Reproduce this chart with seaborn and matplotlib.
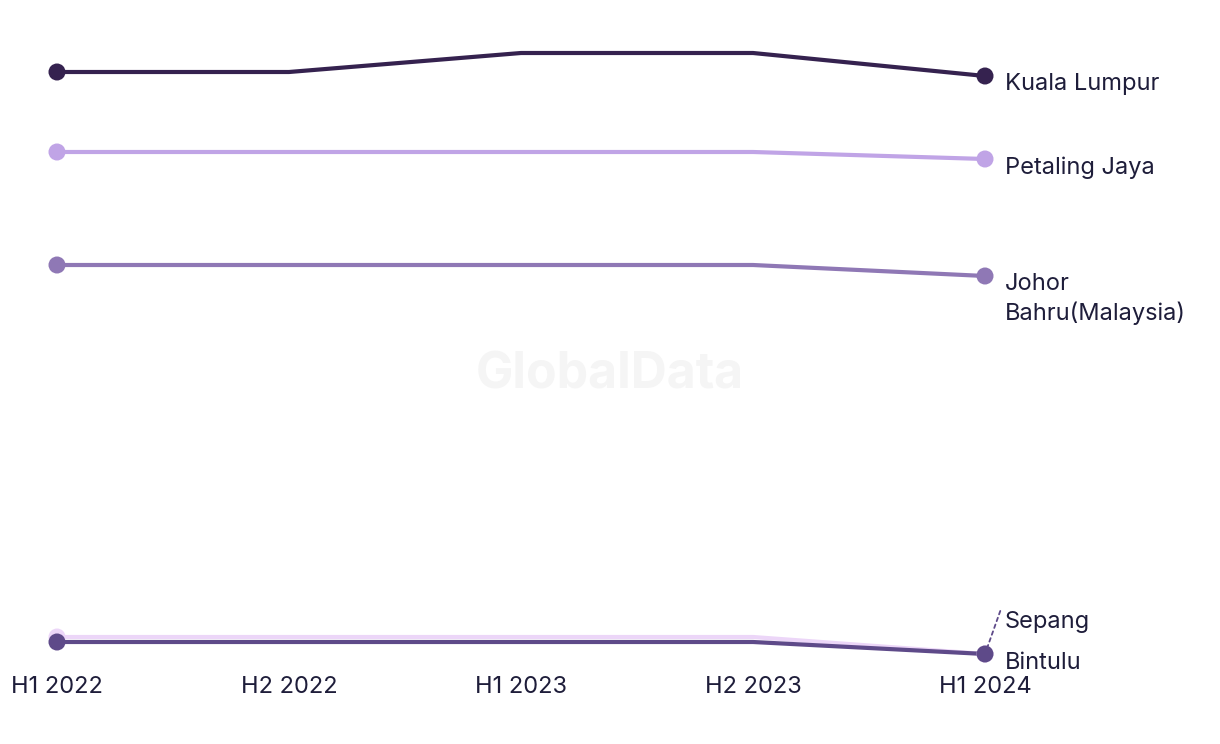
import matplotlib
matplotlib.use("Agg")
import matplotlib.pyplot as plt
import seaborn as sns
import pandas as pd

periods = ["H1 2022", "H2 2022", "H1 2023", "H2 2023", "H1 2024"]
kuala_lumpur = [6.00, 6.00, 6.19, 6.19, 5.96]
petaling_jaya = [5.20, 5.20, 5.20, 5.20, 5.13]
johor_bahru = [4.07, 4.07, 4.07, 4.07, 3.96]
sepang = [0.35, 0.35, 0.35, 0.35, 0.18]
bintulu = [0.30, 0.30, 0.30, 0.30, 0.18]

cities = ["Sepang", "Bintulu", "Johor Bahru(Malaysia)", "Petaling Jaya", "Kuala Lumpur"]
series = [sepang, bintulu, johor_bahru, petaling_jaya, kuala_lumpur]
colors = {
    "Kuala Lumpur": "#35224f",
    "Petaling Jaya": "#c0a4e6",
    "Johor Bahru(Malaysia)": "#8f78b5",
    "Sepang": "#ecd6f8",
    "Bintulu": "#5e4a89",
}
labels = {
    "Kuala Lumpur": "Kuala Lumpur",
    "Petaling Jaya": "Petaling Jaya",
    "Johor Bahru(Malaysia)": "Johor\nBahru(Malaysia)",
}

rows = []
for c, vals in zip(cities, series):
    for i, (p, v) in enumerate(zip(periods, vals)):
        rows.append({"city": c, "x": i, "period": p, "value": v})
df = pd.DataFrame(rows)

sns.set_theme(style="white")
plt.rcParams["font.family"] = ["Inter", "DejaVu Sans"]

fig = plt.figure(figsize=(12.2, 7.44), dpi=100)
W, H = 1220, 744
x0, x1 = 57, 985
y_top, y_bot = 40, 672
ax = fig.add_axes([x0 / W, 1 - y_bot / H, (x1 - x0) / W, (y_bot - y_top) / H])

fig.text(610 / W, 1 - 375 / H, "GlobalData", ha="center", va="center",
         fontsize=36, fontweight="bold", color="#f5f5f5", zorder=0)

for c in cities:
    sub = df[df.city == c]
    sns.lineplot(data=sub, x="x", y="value", color=colors[c], linewidth=3,
                 ax=ax, legend=False, clip_on=False, zorder=2)
    ends = sub[sub.x.isin([0, 4])]
    sns.scatterplot(data=ends, x="x", y="value", color=colors[c], s=150,
                    edgecolor="none", ax=ax, legend=False, clip_on=False, zorder=3)

text_color = "#1e1d3a"
FS = 17
DX = 14.3
for c in ["Kuala Lumpur", "Petaling Jaya"]:
    v = df[(df.city == c) & (df.x == 4)].value.iloc[0]
    ax.annotate(labels[c], xy=(4, v), xytext=(DX, -6), textcoords="offset points",
                ha="left", va="center", fontsize=FS, color=text_color)

vj = df[(df.city == "Johor Bahru(Malaysia)") & (df.x == 4)].value.iloc[0]
ax.annotate(labels["Johor Bahru(Malaysia)"], xy=(4, vj), xytext=(DX, -16.5),
            textcoords="offset points", ha="left", va="center", fontsize=FS,
            color=text_color, linespacing=1.33)

vb = df[(df.city == "Bintulu") & (df.x == 4)].value.iloc[0]
ax.annotate("Bintulu", xy=(4, vb), xytext=(DX, -6.5), textcoords="offset points",
            ha="left", va="center", fontsize=FS, color=text_color)
ax.annotate("Sepang", xy=(4, vb), xytext=(DX, 23), textcoords="offset points",
            ha="left", va="center", fontsize=FS, color=text_color)
ax.annotate("", xy=(4, vb), xytext=(11, 31), textcoords="offset points",
            arrowprops=dict(arrowstyle="-", linestyle=(0, (2, 2)), color="#5e4a89", lw=1.3,
                            shrinkA=0, shrinkB=5))

ax.set_xlim(0, 4)
ax.set_ylim(0, 6.32)
ax.set_xticks(range(len(periods)))
ax.set_xticklabels(periods, fontsize=FS, color=text_color)
ax.set_yticks([])
ax.tick_params(axis="x", length=0, pad=3)
ax.set_xlabel("")
ax.set_ylabel("")
for s in ax.spines.values():
    s.set_visible(False)
ax.patch.set_alpha(0)

fig.savefig("out.png", dpi=100)
